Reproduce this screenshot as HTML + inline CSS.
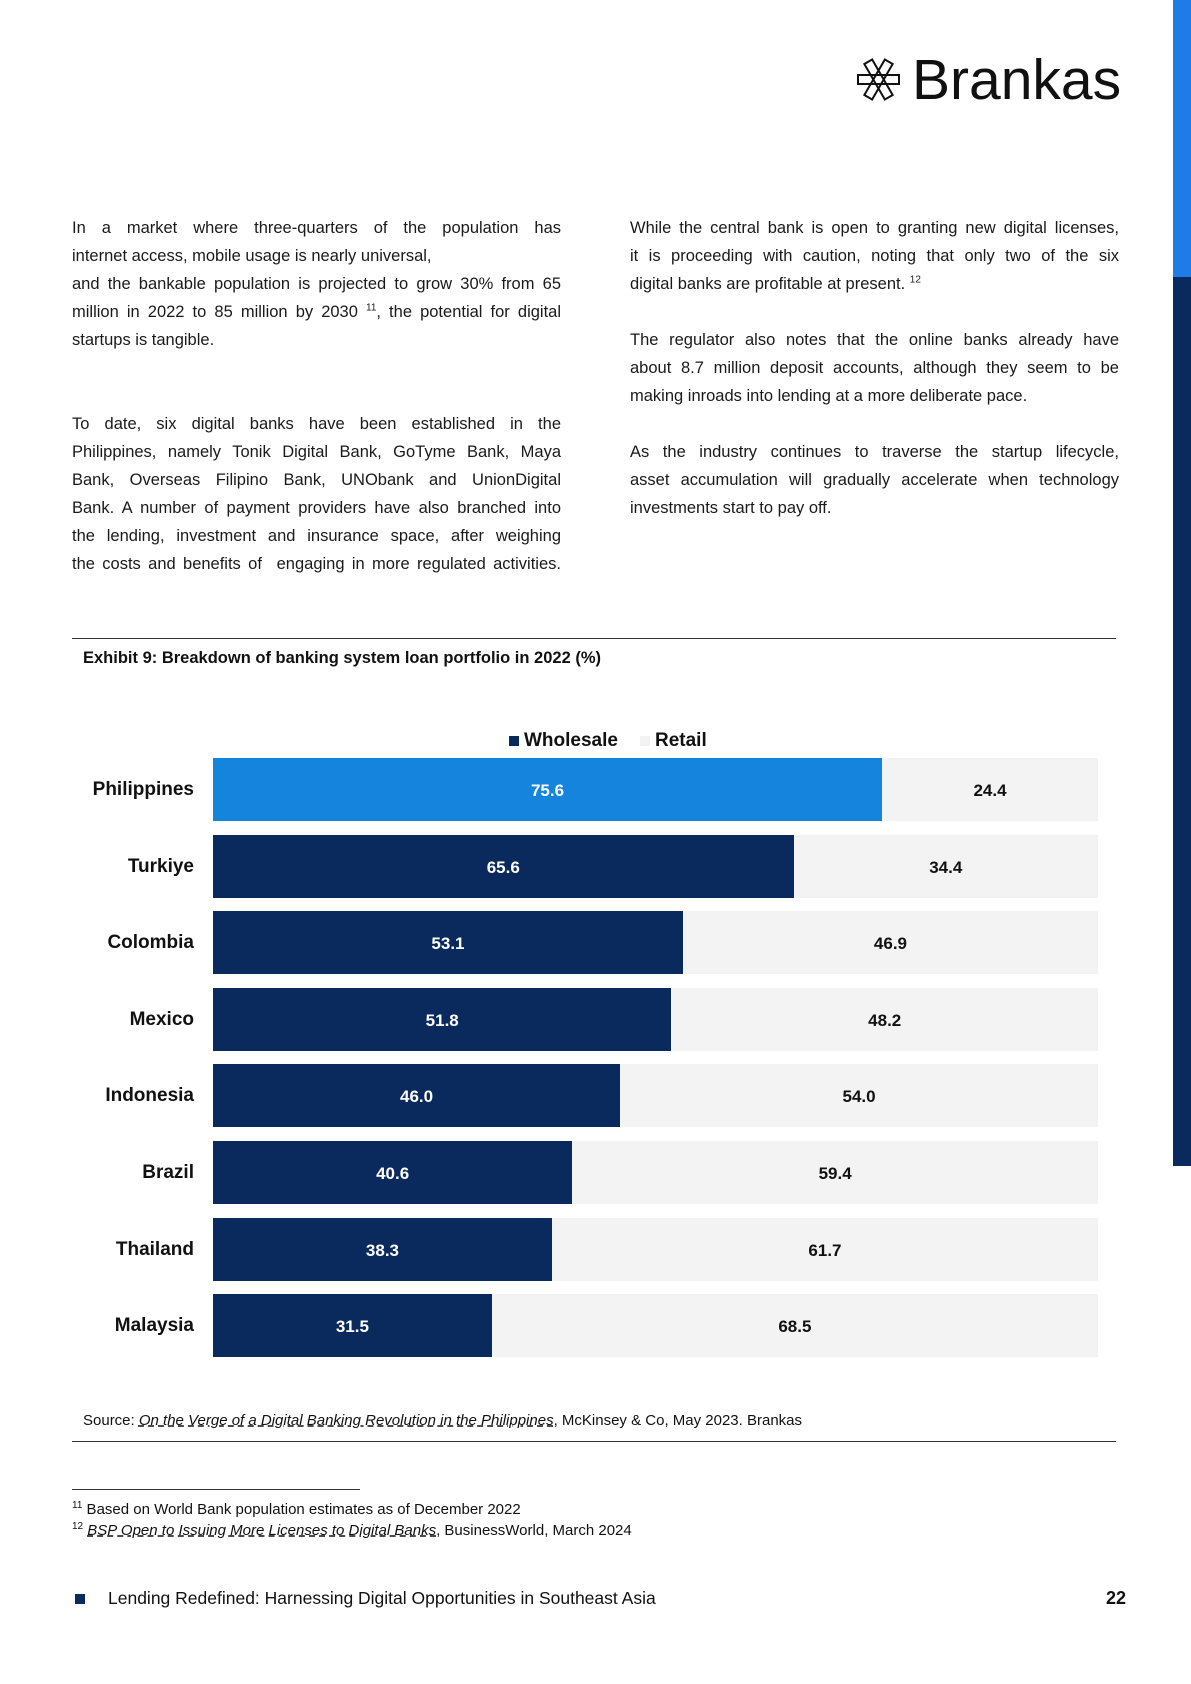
<!DOCTYPE html>
<html><head><meta charset="utf-8">
<style>
body{margin:0;width:1191px;height:1684px;position:relative;background:#fff;font-family:"Liberation Sans",sans-serif;color:#111;overflow:hidden}
.abs{position:absolute}
.col{position:absolute;font-size:16.5px;line-height:28px;color:#1a1a1a}
.col div{text-align:justify;text-align-last:justify;white-space:nowrap}
.col div.e{text-align-last:left}
.col .gap{height:28px}
.lab{position:absolute;right:997px;font-weight:bold;font-size:19px;text-align:right;white-space:nowrap}
.val{position:absolute;font-weight:bold;font-size:17px;text-align:center;transform:translateX(-50%)}
</style></head><body>
<div class="abs" style="left:1173px;top:0;width:18px;height:277px;background:#1e7be8"></div>
<div class="abs" style="left:1173px;top:277px;width:18px;height:889px;background:#0a2a5e"></div>

<svg class="abs" style="left:857px;top:58px" width="43" height="43" viewBox="0 0 43 43">
<g fill="none" stroke="#111" stroke-width="2">
<rect x="1" y="17" width="41" height="9"/>
<rect x="1" y="17" width="41" height="9" transform="rotate(60 21.5 21.5)"/>
<rect x="1" y="17" width="41" height="9" transform="rotate(-60 21.5 21.5)"/>
</g></svg>
<div class="abs" style="left:912px;top:46px;font-size:57px;line-height:68px;color:#111">Brankas</div>

<div class="col" style="left:72px;top:214px;width:489px">
<div>In a market where three-quarters of the population has</div>
<div class="e">internet access, mobile usage is nearly universal,</div>
<div>and the bankable population is projected to grow 30% from 65</div>
<div>million in 2022 to 85 million by 2030 <sup style="font-size:10px;line-height:0">11</sup>, the potential for digital</div>
<div class="e">startups is tangible.</div>
<div class="gap"></div><div class="gap"></div>
<div>To date, six digital banks have been established in the</div>
<div>Philippines, namely Tonik Digital Bank, GoTyme Bank, Maya</div>
<div>Bank, Overseas Filipino Bank, UNObank and UnionDigital</div>
<div>Bank. A number of payment providers have also branched into</div>
<div>the lending, investment and insurance space, after weighing</div>
<div>the costs and benefits of &nbsp;engaging in more regulated activities.</div>
</div>
<div class="col" style="left:630px;top:214px;width:489px">
<div>While the central bank is open to granting new digital licenses,</div>
<div>it is proceeding with caution, noting that only two of the six</div>
<div class="e">digital banks are profitable at present. <sup style="font-size:10px;line-height:0">12</sup></div>
<div class="gap"></div>
<div>The regulator also notes that the online banks already have</div>
<div>about 8.7 million deposit accounts, although they seem to be</div>
<div class="e">making inroads into lending at a more deliberate pace.</div>
<div class="gap"></div>
<div>As the industry continues to traverse the startup lifecycle,</div>
<div>asset accumulation will gradually accelerate when technology</div>
<div class="e">investments start to pay off.</div>
</div>

<div class="abs" style="left:72px;top:638px;width:1044px;height:1px;background:#333"></div>
<div class="abs" style="left:83px;top:649px;font-size:16.5px;font-weight:bold">Exhibit 9: Breakdown of banking system loan portfolio in 2022 (%)</div>

<div class="abs" style="left:509px;top:730px;font-size:19px;font-weight:bold;white-space:nowrap"><span style="display:inline-block;width:10px;height:10px;background:#0a2a5e;margin-right:5px"></span>Wholesale</div>
<div class="abs" style="left:640px;top:730px;font-size:19px;font-weight:bold;white-space:nowrap"><span style="display:inline-block;width:10px;height:10px;background:#f3f3f3;margin-right:5px"></span>Retail</div>

<div id="chart"></div>

<div class="abs" style="left:83px;top:1412px;font-size:15px">Source: <u style="font-style:italic;text-decoration-style:dashed">On the Verge of a Digital Banking Revolution in the Philippines</u>, McKinsey &amp; Co, May 2023. Brankas</div>
<div class="abs" style="left:72px;top:1441px;width:1044px;height:1px;background:#333"></div>

<div class="abs" style="left:72px;top:1489px;width:288px;height:1px;background:#333"></div>
<div class="abs" style="left:72px;top:1500px;font-size:15px"><sup style="font-size:10px">11</sup> Based on World Bank population estimates as of December 2022</div>
<div class="abs" style="left:72px;top:1521px;font-size:15px"><sup style="font-size:10px">12</sup> <u style="font-style:italic;text-decoration-style:dashed">BSP Open to Issuing More Licenses to Digital Banks</u>, BusinessWorld, March 2024</div>

<div class="abs" style="left:75px;top:1594px;width:10px;height:10px;background:#0a2a5e"></div>
<div class="abs" style="left:108px;top:1588px;font-size:17.5px">Lending Redefined: Harnessing Digital Opportunities in Southeast Asia</div>
<div class="abs" style="left:1106px;top:1588px;font-size:18px;font-weight:bold">22</div>

<script>
const countries=["Philippines","Turkiye","Colombia","Mexico","Indonesia","Brazil","Thailand","Malaysia"];
const wholesale=[75.6,65.6,53.1,51.8,46.0,40.6,38.3,31.5];
const retail=[24.4,34.4,46.9,48.2,54.0,59.4,61.7,68.5];
const X0=213,W=885,Y0=758,PITCH=76.6,H=63;
function xs(v){return v/100*W;}
function yb(i){return Y0+i*PITCH;}
const c=document.getElementById('chart');
countries.forEach((name,i)=>{
  const y=yb(i),ww=xs(wholesale[i]),rw=xs(retail[i]);
  const w=document.createElement('div');
  w.className='abs';
  
  
  w.style.cssText=`left:${X0}px;top:${y}px;width:${ww}px;height:${H}px;background:${i===0?'#1584dc':'#0a2a5e'}`;
  c.appendChild(w);
  const r=document.createElement('div');
  r.className='abs';
  
  
  r.style.cssText=`left:${X0+ww}px;top:${y}px;width:${rw}px;height:${H}px;background:#f3f3f3`;
  c.appendChild(r);
  const l=document.createElement('div');
  l.className='lab';
  
  
  l.style.top=(y+21)+'px';
  l.textContent=name;
  c.appendChild(l);
  const v1=document.createElement('div');
  v1.className='val';
  
  
  v1.style.cssText=`left:${X0+ww/2}px;top:${y+23}px;color:#fff`;
  v1.textContent=wholesale[i].toFixed(1);
  c.appendChild(v1);
  const v2=document.createElement('div');
  v2.className='val';
  
  
  v2.style.cssText=`left:${X0+ww+rw/2}px;top:${y+23}px;color:#111`;
  v2.textContent=retail[i].toFixed(1);
  c.appendChild(v2);
});
</script>
</body></html>
